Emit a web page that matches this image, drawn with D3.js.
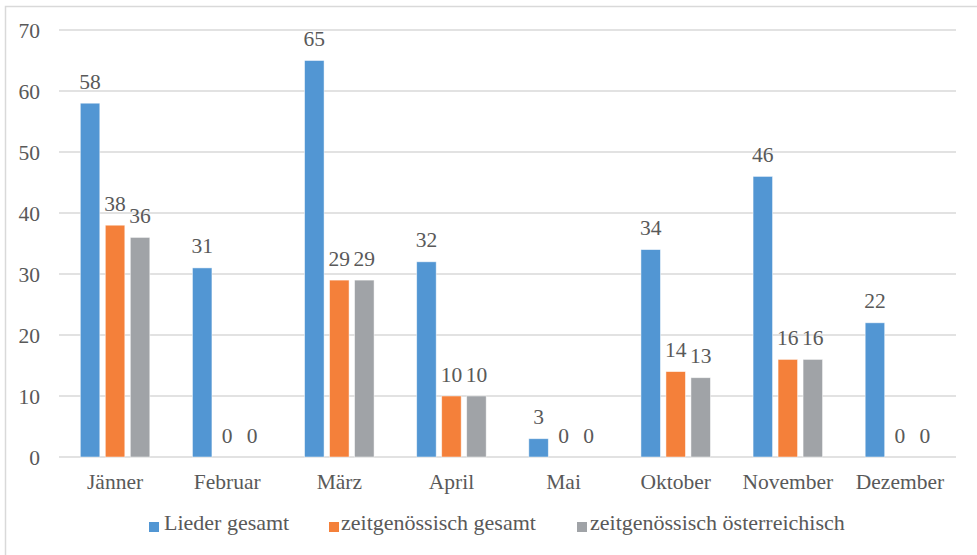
<!DOCTYPE html>
<html>
<head>
<meta charset="utf-8">
<script src="https://cdn.jsdelivr.net/npm/d3@7"></script>
<style>
  html, body { margin: 0; padding: 0; background: #fff; }
  svg { display: block; }
</style>
</head>
<body>
<svg id="chart" width="977" height="555"></svg>
<script>
// Monthly song counts
const months = ["Jänner", "Februar", "März", "April", "Mai", "Oktober", "November", "Dezember"];
const seriesNames = ["Lieder gesamt", "zeitgenössisch gesamt", "zeitgenössisch österreichisch"];
const liederGesamt = [58, 31, 65, 32, 3, 34, 46, 22];
const zeitgenoessischGesamt = [38, 0, 29, 10, 0, 14, 16, 0];
const zeitgenoessischOesterreich = [36, 0, 29, 10, 0, 13, 16, 0];
const yTicks = [0, 10, 20, 30, 40, 50, 60, 70];
const colors = ["#5296d3", "#f4803a", "#a0a3a7"];

const seriesValues = [liederGesamt, zeitgenoessischGesamt, zeitgenoessischOesterreich];
const FONT = "'Liberation Serif', 'Times New Roman', serif";
const TEXT = "#595959";

function styleText(sel, size) {
  return sel.style("font-family", FONT).style("font-size", (size || 21.5) + "px").style("fill", TEXT);
}

const svg = d3.select("#chart");

// outer chart frame (only top and left edges fall inside the canvas)
svg.append("rect")
  .attr("x", 5.5).attr("y", 6.5)
  .attr("width", 1000).attr("height", 560)
  .attr("fill", "none")
  .attr("stroke", "#d9d9d9")
  .attr("stroke-width", 1.5);

const plot = { left: 59, right: 956, top: 30, bottom: 457 };

const x0 = d3.scaleBand().domain(months).range([plot.left, plot.right]).padding(0);
const groupW = 69.5;
const x1 = d3.scaleBand().domain(seriesNames)
  .range([(x0.bandwidth() - groupW) / 2, (x0.bandwidth() + groupW) / 2])
  .paddingInner(0.22).paddingOuter(0);
const y = d3.scaleLinear().domain([0, 70]).range([plot.bottom, plot.top]);

// horizontal gridlines
svg.append("g").selectAll("line").data(yTicks).join("line")
  .attr("x1", plot.left).attr("x2", plot.right)
  .attr("y1", d => y(d)).attr("y2", d => y(d))
  .attr("stroke", "#d9d9d9").attr("stroke-width", 1.5);

// y tick labels
const yAxis = d3.axisLeft(y).tickValues(yTicks).tickSize(0).tickPadding(0);
const yg = svg.append("g").attr("transform", `translate(40,0)`).call(yAxis);
yg.select(".domain").remove();
styleText(yg.selectAll("text")).attr("dy", "0.34em");

// category labels
const xAxis = d3.axisBottom(x0).tickSize(0).tickPadding(0);
const xg = svg.append("g").attr("transform", `translate(0,${plot.bottom})`).call(xAxis);
xg.select(".domain").remove();
styleText(xg.selectAll("text")).attr("y", 32).attr("dy", 0);

// bars and value labels
const rows = months.map((m, i) => ({
  month: m,
  values: seriesNames.map((s, k) => ({ series: s, k, value: seriesValues[k][i] }))
}));

const groups = svg.append("g").selectAll("g").data(rows).join("g")
  .attr("transform", d => `translate(${x0(d.month)},0)`);

groups.selectAll("rect").data(d => d.values.filter(v => v.value > 0)).join("rect")
  .attr("x", d => x1(d.series))
  .attr("width", x1.bandwidth())
  .attr("y", d => y(d.value))
  .attr("height", d => y(0) - y(d.value))
  .attr("fill", d => colors[d.k])
  .attr("stroke", "#ffffff")
  .attr("stroke-opacity", 0.6)
  .attr("stroke-width", 0.8);

styleText(groups.selectAll("text.val").data(d => d.values).join("text")
  .attr("class", "val")
  .attr("x", d => x1(d.series) + x1.bandwidth() / 2)
  .attr("y", d => y(d.value) - 14.5)
  .attr("text-anchor", "middle")
  .text(d => d.value));

// legend
const legendItems = [
  { name: seriesNames[0], sx: 149, tx: 164 },
  { name: seriesNames[1], sx: 329, tx: 341 },
  { name: seriesNames[2], sx: 577, tx: 590 }
];
const lg = svg.append("g");
legendItems.forEach((d, k) => {
  lg.append("rect").attr("x", d.sx).attr("y", 522).attr("width", 10).attr("height", 10)
    .attr("fill", colors[k]);
  styleText(lg.append("text").attr("x", d.tx).attr("y", 530).text(d.name), 22);
});
</script>
</body>
</html>
